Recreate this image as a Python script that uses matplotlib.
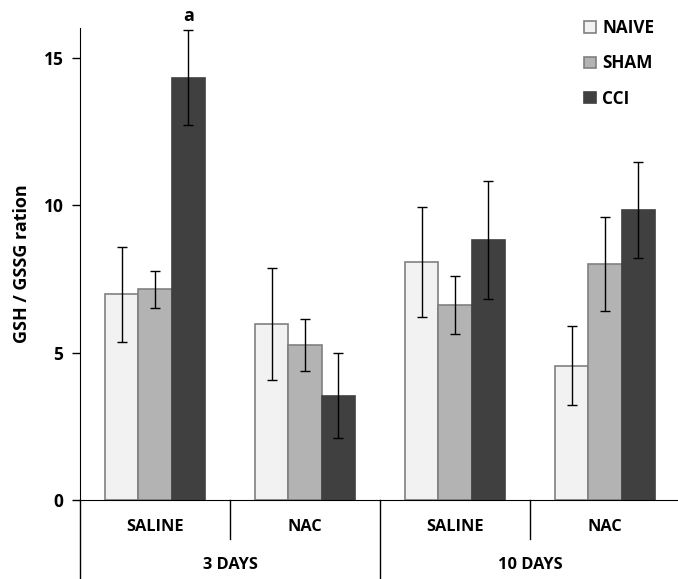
import numpy as np
import matplotlib
matplotlib.use("Agg")
import matplotlib.pyplot as plt
from matplotlib.lines import Line2D

plt.rcParams['font.family'] = ['Open Sans', 'DejaVu Sans']
plt.rcParams['font.weight'] = 'bold'

treatments = ["SALINE", "NAC", "SALINE", "NAC"]
days = ["3 DAYS", "10 DAYS"]
groups = ["NAIVE", "SHAM", "CCI"]

naive = [6.98, 5.96, 8.08, 4.56]
naive_err = [1.61, 1.90, 1.86, 1.35]
sham = [7.14, 5.26, 6.60, 8.00]
sham_err = [0.62, 0.87, 0.98, 1.60]
cci = [14.32, 3.54, 8.82, 9.83]
cci_err = [1.62, 1.45, 2.00, 1.62]

fills = ["#f2f2f2", "#b3b3b3", "#404040"]
edges = ["#808080", "#808080", "#404040"]

fig = plt.figure(figsize=(6.78, 5.79), dpi=100)
ax = fig.add_axes([0.118, 0.1364, 0.885, 0.8152])

x = np.arange(len(treatments))
w = 0.222
for i, (vals, errs) in enumerate([(naive, naive_err), (sham, sham_err), (cci, cci_err)]):
    ax.bar(x + (i - 1) * w, vals, w, color=fills[i], edgecolor=edges[i],
           linewidth=1.2, label=groups[i], zorder=2)
    ax.errorbar(x + (i - 1) * w, vals, yerr=errs, fmt='none', ecolor='black',
                elinewidth=1, capsize=3.6, capthick=1, zorder=3)

# significance mark over 3-day saline CCI
ax.text(x[0] + w, 16.4, "a", ha='center', va='center',
        fontsize=13, fontweight='bold')

ax.set_xlim(-0.5, 3.5)
ax.set_ylim(0, 16)
ax.set_yticks([0, 5, 10, 15])
ax.tick_params(axis='y', length=6, width=1, labelsize=12.5, pad=6)
ax.set_xticks([])
for s in ['top', 'right']:
    ax.spines[s].set_visible(False)
ax.set_ylabel("GSH / GSSG ration", fontsize=13, fontweight='bold', labelpad=9)

# two-level category axis below the bars
tr = ax.get_xaxis_transform()
for xd in [-0.5, 1.5]:
    ax.add_line(Line2D([xd, xd], [0, -0.165], transform=tr, color='black',
                       lw=1, clip_on=False))
for xd in [0.5, 2.5]:
    ax.add_line(Line2D([xd, xd], [0, -0.083], transform=tr, color='black',
                       lw=1, clip_on=False))
for xi, t in zip(x, treatments):
    ax.text(xi, -0.057, t, transform=tr, ha='center', va='center', fontsize=11.8)
for xi, d in zip([0.5, 2.5], days):
    ax.text(xi, -0.138, d, transform=tr, ha='center', va='center', fontsize=11.8)

ax.legend(loc='upper right', bbox_to_anchor=(0.983, 1.052), frameon=False,
          fontsize=12.3, handlelength=0.65, handleheight=0.65, labelspacing=1.02,
          handletextpad=0.4)

fig.savefig("out.png", dpi=100)
